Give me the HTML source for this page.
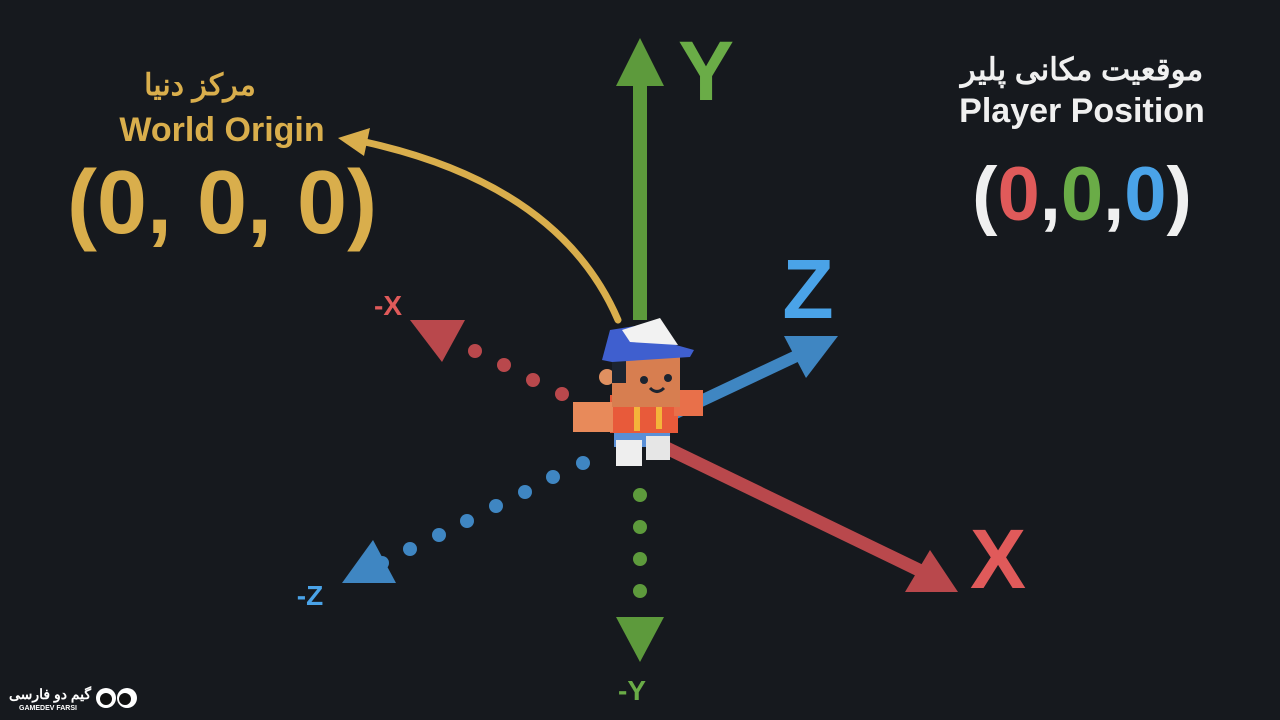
<!DOCTYPE html>
<html><head><meta charset="utf-8"><style>
html,body{margin:0;padding:0;background:#16191e;}
svg{display:block;}
text{font-family:"Liberation Sans","Noto Sans CJK SC",sans-serif;font-weight:bold;}
</style></head><body>
<svg width="1280" height="720" viewBox="0 0 1280 720">
<rect width="1280" height="720" fill="#16191e"/>

<g>
<path d="M618,320 Q560,185 365,142" stroke="#d9ae4c" stroke-width="7" fill="none" stroke-linecap="round"/>
<polygon points="338,138 370,128 364,156" fill="#d9ae4c"/>
</g>

<g>
<line x1="640" y1="320" x2="640" y2="82" stroke="#5d9a3c" stroke-width="14"/>
<polygon points="640,38 664,86 616,86" fill="#5d9a3c"/>
<text x="706" y="100" font-size="84" fill="#6aac47" text-anchor="middle">Y</text>
</g>
<g fill="#5d9a3c">
<circle cx="640" cy="495" r="7"/><circle cx="640" cy="527" r="7"/><circle cx="640" cy="559" r="7"/><circle cx="640" cy="591" r="7"/>
<polygon points="616,617 664,617 640,662"/>
<text x="632" y="700" font-size="28" fill="#6aac47" text-anchor="middle">-Y</text>
</g>

<g fill="#b9484c">
<circle cx="475" cy="351" r="7"/><circle cx="504" cy="365" r="7"/><circle cx="533" cy="380" r="7"/><circle cx="562" cy="394" r="7"/>
<polygon points="410,320 465,320 442,362"/>
<text x="388" y="315" font-size="28" fill="#e05a5a" text-anchor="middle">-X</text>
</g>

<g fill="#3f86c2">
<circle cx="583" cy="463" r="7"/><circle cx="553" cy="477" r="7"/><circle cx="525" cy="492" r="7"/><circle cx="496" cy="506" r="7"/><circle cx="467" cy="521" r="7"/><circle cx="439" cy="535" r="7"/><circle cx="410" cy="549" r="7"/><circle cx="382" cy="563" r="7"/>
<polygon points="342,583 396,583 373,540"/>
<text x="310" y="605" font-size="28" fill="#4aa3e8" text-anchor="middle">-Z</text>
</g>

<g>
<line x1="650" y1="440" x2="925" y2="573" stroke="#b9484c" stroke-width="13"/>
<polygon points="958,592 905,592 930,550" fill="#b9484c"/>
<text x="998" y="588" font-size="84" fill="#e05a5a" text-anchor="middle">X</text>
</g>

<g>
<line x1="650" y1="425" x2="805" y2="352" stroke="#3f86c2" stroke-width="12"/>
<polygon points="838,336 784,336 806,378" fill="#3f86c2"/>
<text x="808" y="318" font-size="84" fill="#4aa3e8" text-anchor="middle">Z</text>
</g>

<g>
<rect x="614" y="425" width="56" height="22" fill="#5a8fd6"/>
<rect x="616" y="440" width="26" height="26" fill="#eeeeee"/>
<rect x="646" y="436" width="24" height="24" fill="#e6e6e6"/>
<rect x="610" y="395" width="68" height="38" fill="#e85a3a"/>
<rect x="634" y="405" width="6" height="26" fill="#f4b43a"/>
<rect x="656" y="403" width="6" height="26" fill="#f4b43a"/>
<rect x="573" y="402" width="40" height="30" fill="#e88a5a"/>
<rect x="674" y="390" width="29" height="26" fill="#e8704a"/>
<circle cx="607" cy="377" r="8" fill="#e09060"/>
<rect x="612" y="355" width="68" height="52" fill="#d77e50"/>
<rect x="612" y="355" width="14" height="28" fill="#1c2430"/>
<circle cx="644" cy="380" r="4" fill="#1c2430"/><circle cx="668" cy="378" r="4" fill="#1c2430"/>
<path d="M650,388 Q657,395 664,388" stroke="#1c2430" stroke-width="3" fill="none"/>
<path d="M602,360 L610,330 L660,322 L676,345 L694,350 L690,357 L612,362 Z" fill="#3f5fcf"/>
<path d="M622,330 L660,318 L678,345 L630,342 Z" fill="#f2f2f2"/>
</g>

<text x="200" y="95" font-size="30" fill="#d9ae4c" text-anchor="middle">مرکز دنیا</text>
<text x="222" y="141" font-size="34" fill="#d9ae4c" text-anchor="middle">World Origin</text>
<text x="222" y="233" font-size="90" fill="#d9ae4c" text-anchor="middle" font-weight="normal">(0, 0, 0)</text>

<text x="1082" y="80" font-size="31" fill="#f0f0f0" text-anchor="middle">موقعیت مکانی پلیر</text>
<text x="1082" y="122" font-size="34" fill="#f0f0f0" text-anchor="middle">Player Position</text>
<text x="1082" y="220" font-size="76" text-anchor="middle" font-weight="normal"><tspan fill="#f0f0f0">(</tspan><tspan fill="#e05a5a">0</tspan><tspan fill="#f0f0f0">,</tspan><tspan fill="#6aac47">0</tspan><tspan fill="#f0f0f0">,</tspan><tspan fill="#4aa3e8">0</tspan><tspan fill="#f0f0f0">)</tspan></text>

<g>
<text x="50" y="699" font-size="14" fill="#ffffff" text-anchor="middle">گیم دو فارسی</text>
<text x="48" y="710" font-size="7" fill="#ffffff" text-anchor="middle">GAMEDEV FARSI</text>
<circle cx="106" cy="698" r="10" fill="#ffffff"/><circle cx="106" cy="699" r="6" fill="#111"/>
<circle cx="127" cy="698" r="10" fill="#ffffff"/><circle cx="125" cy="699" r="6" fill="#111"/>
</g>
</svg>
</body></html>
